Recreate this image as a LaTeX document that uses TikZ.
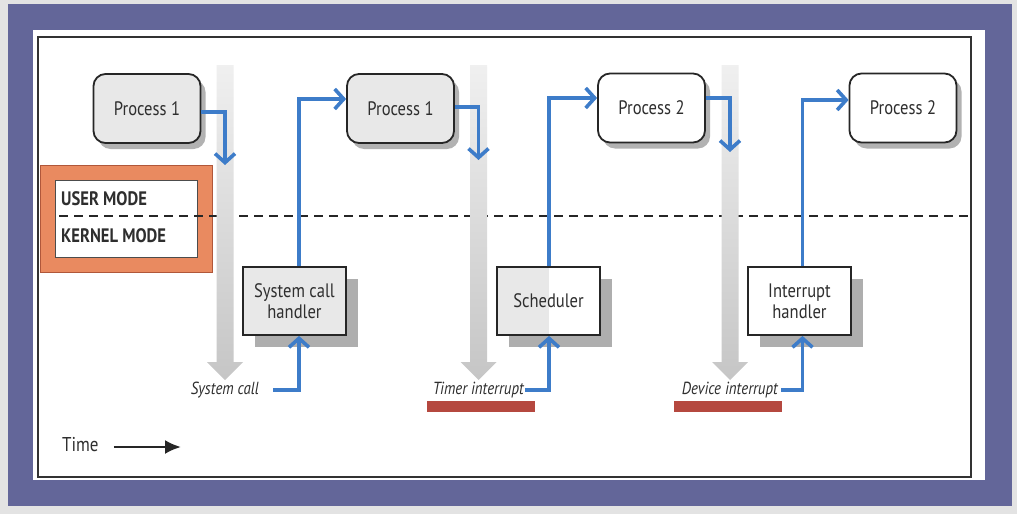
\documentclass[tikz,border=0pt]{standalone}
\usepackage{fontspec}
\setmainfont{PT Sans}[FakeStretch=0.85]
\usetikzlibrary{arrows.meta,shadows}
\definecolor{purp}{HTML}{636699}
\definecolor{orng}{HTML}{E98A60}
\definecolor{orngdk}{HTML}{B0573A}
\definecolor{bluel}{HTML}{3D7CC9}
\definecolor{redbar}{HTML}{B5483F}
\definecolor{txt}{HTML}{2E2E2E}
\tikzset{
  proc/.style={draw=black!85, line width=1.8pt, rounded corners=12pt,
    minimum width=107pt, minimum height=69pt, inner sep=0pt,
    font=\fontsize{19.5}{21}\selectfont, text=txt,
    drop shadow={shadow xshift=5pt, shadow yshift=-6pt, opacity=0.3, fill=black}},
  handler/.style={draw=black!85, line width=1.8pt,
    minimum width=103pt, minimum height=68pt, inner sep=0pt, align=center,
    font=\fontsize{19.5}{21}\selectfont, text=txt,
    drop shadow={shadow xshift=12pt, shadow yshift=-12pt, opacity=0.75, fill=gray!85}},
  evlabel/.style={font=\fontsize{17.5}{19}\selectfont\itshape, text=txt, inner sep=0pt},
  bluearrow/.style={draw=bluel, line width=3.6pt, -{Straight Barb[length=9pt,width=20pt,line width=3.6pt]}},
  graybar/.style={top color=gray!12, bottom color=gray!45, draw=none},
  modetext/.style={font=\fontsize{19.5}{21}\selectfont\bfseries, text=txt, inner sep=0pt, anchor=west},
}
\begin{document}
\begin{tikzpicture}[x=1pt,y=-1pt]
\useasboundingbox (0,0) rectangle (1017,514);
% frame
\fill[gray!22] (0,0) rectangle (1017,514);
\fill[purp] (8,4) rectangle (1012,506);
\fill[white] (33,30) rectangle (985,480);
\draw[line width=1.3pt, black!80] (38,37) rectangle (971,477);
% mode box
\fill[orng, draw=orngdk, line width=1pt] (40,165) rectangle (212,272);
\fill[white, draw=black!70, line width=1pt] (55,180) rectangle (197,257);
\node[modetext] (um) at (61,199) {USER MODE};
\node[modetext] (km) at (61,236) {KERNEL MODE};
% dashed boundary
\draw[line width=1.6pt, black!85, dash pattern=on 9pt off 6pt] (59,216) -- (970,216);
% gray time arrows
\foreach \cx/\nm in {225/ga, 478.5/gb, 730/gc}{
  \path[graybar] (\cx-8.5,65) -- (\cx+8.5,65) -- (\cx+8.5,362) -- (\cx+18,362)
     -- (\cx,380) -- (\cx-18,362) -- (\cx-8.5,362) -- cycle;
}
% process nodes
\node[proc, fill=gray!18] (p1) at (147,108.5) {Process 1};
\node[proc, fill=gray!18] (p1b) at (400.5,108.5) {Process 1};
\node[proc, fill=white] (p2) at (651.5,108) {Process 2};
\node[proc, fill=white] (p2b) at (903,108) {Process 2};
% handlers
\node[handler, fill=gray!18] (h1) at (294.5,301) {System call\\handler};
\node[handler, fill=white,
  path picture={\fill[gray!18] (path picture bounding box.south west) rectangle (path picture bounding box.north);}]
  (h2) at (548.5,301) {Scheduler};
\node[handler, fill=white] (h3) at (799.5,301) {Interrupt\\handler};
% event labels
\node[evlabel, anchor=east] (e1) at (259,390) {System call};
\node[evlabel, anchor=east] (e2) at (524,390) {Timer interrupt};
\node[evlabel, anchor=east] (e3) at (778,390) {Device interrupt};
% red bars
\fill[redbar] (427,401) rectangle (535,412);
\fill[redbar] (674,401) rectangle (782,412);
% down arrows into kernel
\coordinate (d1) at (225,165);
\coordinate (d2) at (478.5,160);
\coordinate (d3) at (730,152);
\draw[bluearrow] ([yshift=-3.5pt]p1.east) -| (d1);
\draw[bluearrow] ([yshift=1.5pt]p1b.east) -| (d2);
\draw[bluearrow] ([yshift=10pt]p2.east) -| (d3);
% up arrows back to processes
\draw[bluearrow] ([xshift=4.5pt]h1.north) |- ([yshift=9.5pt]p1b.west);
\draw[bluearrow] ([xshift=0.5pt]h2.north) |- ([yshift=10pt]p2.west);
\draw[bluearrow] ([xshift=3pt]h3.north) |- ([yshift=8pt]p2b.west);
% event arrows into handlers
\draw[bluearrow] ([xshift=14pt]e1.east) -| ([xshift=4.5pt]h1.south);
\draw[bluearrow] ([xshift=1pt]e2.east) -| ([xshift=0.5pt]h2.south);
\draw[bluearrow] ([xshift=3pt]e3.east) -| ([xshift=3pt]h3.south);
% time
\node[font=\fontsize{20}{22}\selectfont, text=txt, anchor=west, inner sep=0pt] (time) at (62,445) {Time};
\coordinate (tend) at (181,447);
\draw[line width=2.4pt, black!85, -{Latex[length=16pt,width=14pt]}] ([xshift=15pt,yshift=-2pt]time.east) -- (tend);
\end{tikzpicture}
\end{document}
